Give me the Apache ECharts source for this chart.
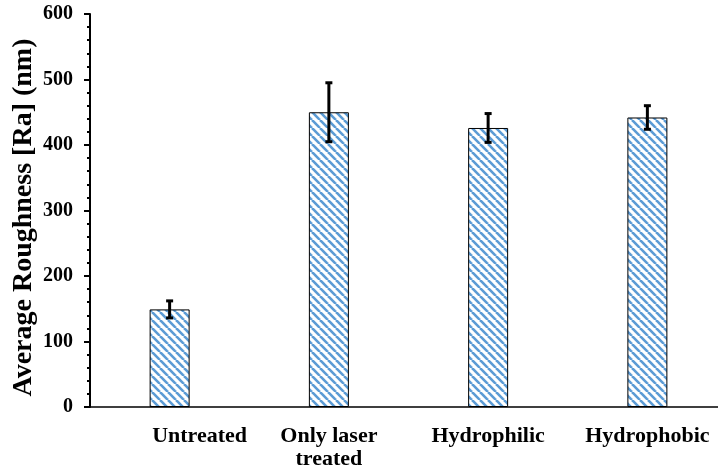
<!DOCTYPE html>
<html>
<head>
<meta charset="utf-8">
<script src="https://cdn.jsdelivr.net/npm/echarts@6/dist/echarts.min.js"></script>
<style>
  html, body { margin: 0; padding: 0; background: #fff; }
  #chart { width: 718px; height: 475px; }
</style>
</head>
<body>
<div id="chart"></div>
<script>
// Surface roughness per treatment (mean ± standard deviation, nm)
const categories = ['Untreated', 'Only laser\ntreated', 'Hydrophilic', 'Hydrophobic'];
const roughness = [149, 450, 426, 442];
const roughnessErr = [13, 45, 22, 18];
const yTicks = [0, 100, 200, 300, 400, 500, 600];

// Diagonal hatch used as the bar fill
function hatch() {
  const s = 8;
  const c = document.createElement('canvas');
  c.width = s; c.height = s;
  const g = c.getContext('2d');
  g.fillStyle = '#ffffff';
  g.fillRect(0, 0, s, s);
  g.strokeStyle = '#5B9BD5';
  g.lineWidth = 2.6;
  for (let k = -1; k <= 1; k++) {
    g.beginPath();
    g.moveTo(k * s, 0);
    g.lineTo(k * s + s, s);
    g.stroke();
  }
  return c;
}

const font = '"Liberation Serif", "Times New Roman", serif';
const chart = echarts.init(document.getElementById('chart'));

// first category label sits a little to the right of its bar
const categoryItems = categories.map((name, i) =>
  i === 0 ? { value: name, textStyle: { padding: [0, 0, 0, 60] } } : name
);

chart.setOption({
  animation: false,
  backgroundColor: '#fff',
  grid: { left: 90, width: 637, top: 14, bottom: 68, outerBoundsMode: 'none' },
  xAxis: {
    type: 'category',
    data: categoryItems,
    axisLine: { lineStyle: { color: '#000', width: 1.5 } },
    axisTick: { alignWithLabel: true, length: 5, lineStyle: { color: '#000', width: 1.5 } },
    axisLabel: {
      interval: 0,
      color: '#000', fontFamily: font, fontWeight: 'bold', fontSize: 22,
      margin: 18, lineHeight: 23
    }
  },
  yAxis: {
    type: 'value',
    min: yTicks[0],
    max: yTicks[yTicks.length - 1],
    interval: 100,
    name: 'Average Roughness [Ra] (nm)',
    nameLocation: 'middle',
    nameMoveOverlap: false,
    nameGap: 52,
    nameTextStyle: {
      color: '#000', fontFamily: font, fontWeight: 'bold', fontSize: 28,
      padding: [0, 14, 0, 0]
    },
    axisLine: { show: true, lineStyle: { color: '#000', width: 2 } },
    axisTick: { show: true, length: 6, lineStyle: { color: '#000', width: 2 } },
    minorTick: { show: true, splitNumber: 5, length: 3, lineStyle: { color: '#000', width: 2 } },
    splitLine: { show: false },
    axisLabel: { color: '#000', fontFamily: font, fontWeight: 'bold', fontSize: 20, margin: 17 }
  },
  series: [
    {
      type: 'bar',
      data: roughness,
      barWidth: 40,
      itemStyle: {
        color: { image: hatch(), repeat: 'repeat' },
        borderColor: '#000',
        borderWidth: 1
      }
    },
    {
      type: 'custom',
      data: roughness.map((v, i) => [i, v - roughnessErr[i], v + roughnessErr[i]]),
      z: 10,
      renderItem: function (params, api) {
        const x = api.value(0);
        const lo = api.coord([x, api.value(1)]);
        const hi = api.coord([x, api.value(2)]);
        const cap = 3.5;
        const style = { stroke: '#000', lineWidth: 3 };
        return {
          type: 'group',
          children: [
            { type: 'line', shape: { x1: lo[0], y1: lo[1], x2: hi[0], y2: hi[1] }, style: style },
            { type: 'line', shape: { x1: hi[0] - cap, y1: hi[1], x2: hi[0] + cap, y2: hi[1] }, style: style },
            { type: 'line', shape: { x1: lo[0] - cap, y1: lo[1], x2: lo[0] + cap, y2: lo[1] }, style: style }
          ]
        };
      }
    }
  ]
});
</script>
</body>
</html>
